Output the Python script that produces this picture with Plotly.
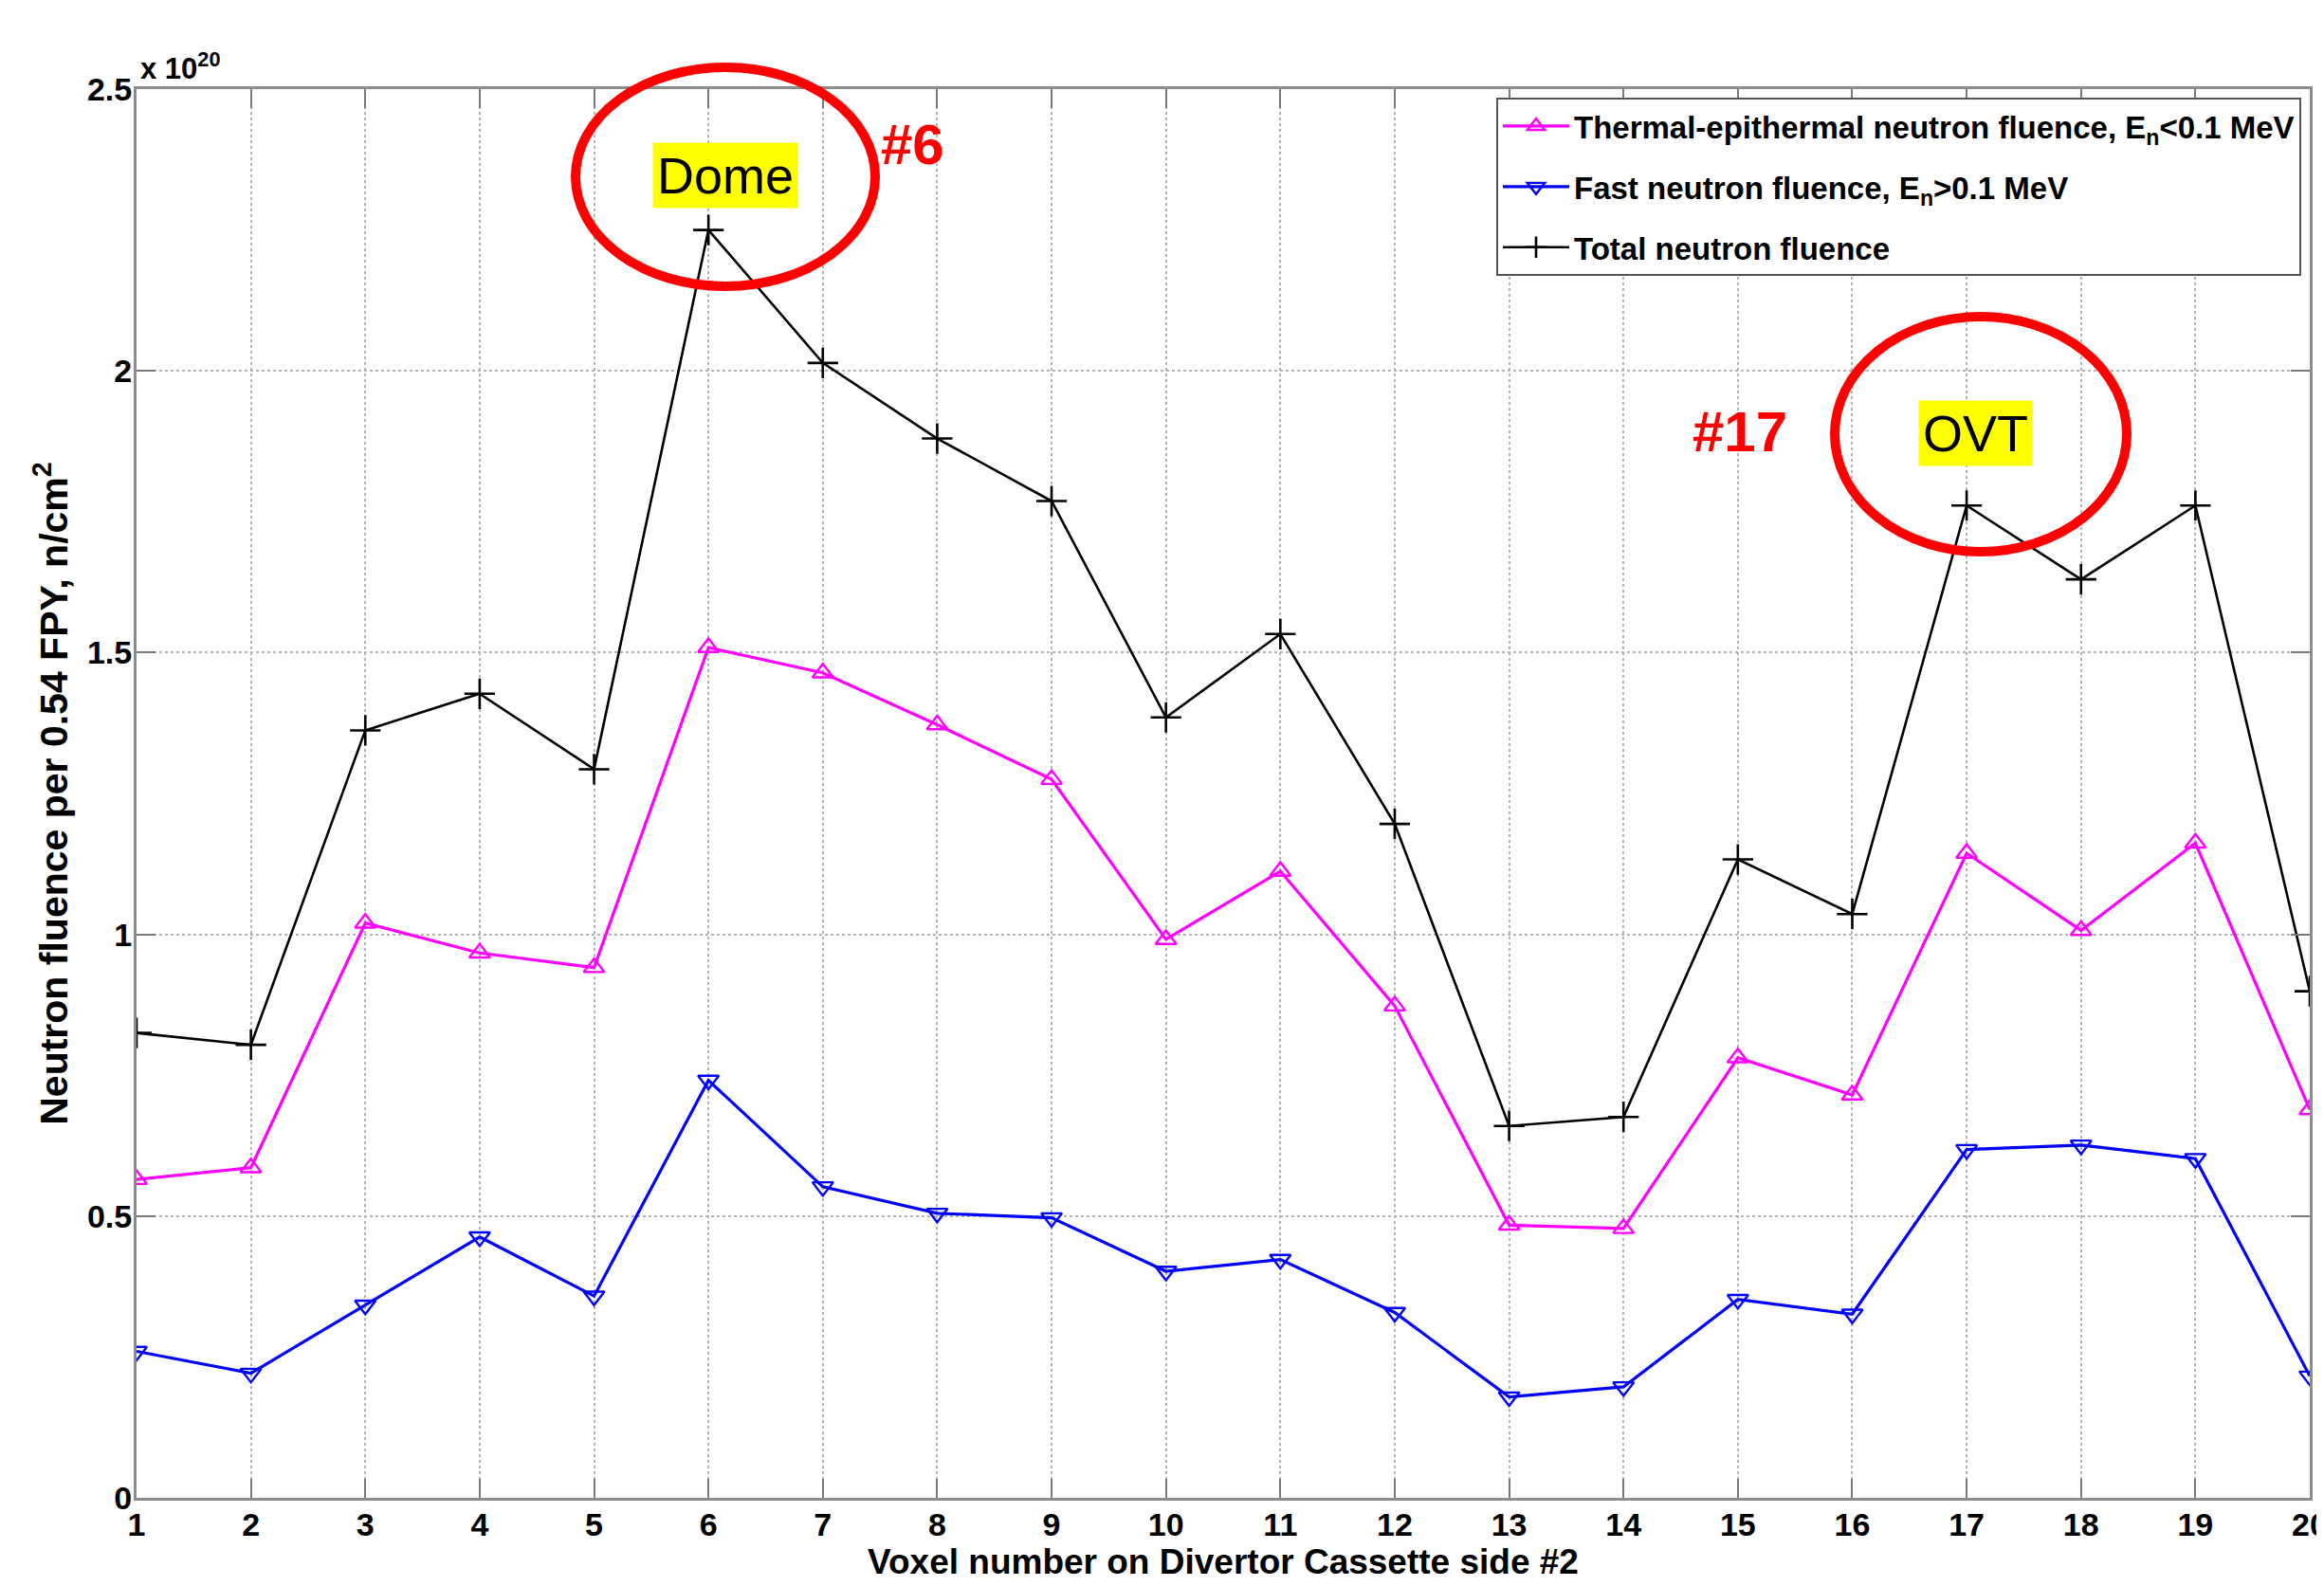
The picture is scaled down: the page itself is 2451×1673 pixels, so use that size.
import plotly.graph_objects as go

# Data (values in units of 1e20 n/cm^2)
voxels = list(range(1, 21))
thermal = [0.565, 0.586, 1.020, 0.967, 0.941, 1.509, 1.464, 1.372, 1.275, 0.991,
           1.112, 0.873, 0.484, 0.478, 0.781, 0.715, 1.144, 1.007, 1.162, 0.689]
fast = [0.260, 0.221, 0.342, 0.463, 0.358, 0.741, 0.552, 0.505, 0.497, 0.402,
        0.423, 0.329, 0.179, 0.197, 0.352, 0.326, 0.618, 0.626, 0.602, 0.216]
total = [0.825, 0.804, 1.362, 1.427, 1.293, 2.250, 2.014, 1.880, 1.769, 1.385,
         1.533, 1.196, 0.660, 0.676, 1.133, 1.036, 1.761, 1.630, 1.761, 0.899]
y_ticks = [0, 0.5, 1, 1.5, 2, 2.5]
y_tick_labels = ["0", "0.5", "1", "1.5", "2", "2.5"]

# page body has an 8px margin; figure sized/placed to compensate
OFF = 8
W, H = 2451 - OFF, 1673 - OFF
L, R, T, B = 144 - OFF, 15, 94 - OFF, 93
PW, PH = W - L - R, H - T - B

def px(x):
    # screen x (pixels) -> paper coordinate
    return (x - OFF - L) / PW

def py(y):
    # screen y (pixels) -> paper coordinate
    return (H - B - (y - OFF)) / PH

FONT = "Liberation Sans, Arial, sans-serif"

fig = go.Figure()
fig.add_trace(go.Scatter(
    x=voxels, y=thermal, mode="lines+markers", legendgroup="g1",
    name="Thermal-epithermal neutron fluence, E<sub>n</sub><0.1 MeV",
    line=dict(color="#ff00ff", width=3.2),
    marker=dict(symbol="triangle-up-open", size=19, color="#ff00ff",
                line=dict(width=2.4, color="#ff00ff")),
))
fig.add_trace(go.Scatter(
    x=voxels, y=fast, mode="lines+markers", legendgroup="g2",
    name="Fast neutron fluence, E<sub>n</sub>>0.1 MeV",
    line=dict(color="#0000ff", width=3.2),
    marker=dict(symbol="triangle-down-open", size=19, color="#0000ff",
                line=dict(width=2.4, color="#0000ff")),
))
fig.add_trace(go.Scatter(
    x=voxels, y=total, mode="lines+markers", legendgroup="g3",
    name="Total neutron fluence",
    line=dict(color="#000000", width=2.6),
    marker=dict(symbol="cross-thin", size=23, color="#000000",
                line=dict(width=2.6, color="#000000")),
))

axis_common = dict(
    showline=True, linecolor="#8c8c8c", linewidth=3, mirror="ticks",
    ticks="inside", ticklen=20, tickwidth=2, tickcolor="#7a7a7a",
    showgrid=True, gridcolor="#b4b4b4", gridwidth=1.5, griddash="dot",
    zeroline=False, automargin=False, ticklabeloverflow="allow",
    tickfont=dict(family=FONT, size=34, color="#000000", weight="bold"),
)

fig.update_xaxes(
    range=[1, 20], tickmode="array", tickvals=voxels,
    ticktext=[str(v) for v in voxels], ticklabelstandoff=-4,
    title=dict(text="<b>Voxel number on Divertor Cassette side #2</b>",
               font=dict(family=FONT, size=37, color="#000000"), standoff=0),
    **axis_common,
)
fig.update_yaxes(
    range=[0, 2.5], tickmode="array", tickvals=y_ticks, ticktext=y_tick_labels,
    ticklabelstandoff=-5,
    title=dict(text="<b>Neutron fluence per 0.54 FPY, n/cm<sup>2</sup></b>",
               font=dict(family=FONT, size=41, color="#000000"), standoff=8),
    **axis_common,
)

shapes = [
    dict(type="circle", xref="paper", yref="paper",
         x0=px(607), x1=px(923), y0=py(302), y1=py(71),
         line=dict(color="#ff0000", width=10)),
    dict(type="circle", xref="paper", yref="paper",
         x0=px(1935), x1=px(2243), y0=py(582), y1=py(334),
         line=dict(color="#ff0000", width=10)),
]

annotations = [
    dict(text="<b>x 10<sup>20</sup></b>", xref="paper", yref="paper",
         x=px(146), y=py(92), xanchor="left", yanchor="bottom", showarrow=False,
         font=dict(family=FONT, size=31, color="#000000")),
    dict(text="Dome", xref="paper", yref="paper", x=px(765), y=py(185),
         xanchor="center", yanchor="middle",
         showarrow=False, bgcolor="#ffff00", borderpad=4,
         font=dict(family=FONT, size=54, color="#000000")),
    dict(text="OVT", xref="paper", yref="paper", x=px(2083), y=py(457),
         xanchor="center", yanchor="middle",
         showarrow=False, bgcolor="#ffff00", borderpad=4,
         font=dict(family=FONT, size=54, color="#000000")),
    dict(text="<b>#6</b>", xref="paper", yref="paper", x=px(963), y=py(152),
         xanchor="center", yanchor="middle", showarrow=False,
         font=dict(family=FONT, size=60, color="#ff0000")),
    dict(text="<b>#17</b>", xref="paper", yref="paper", x=px(1835), y=py(455),
         xanchor="center", yanchor="middle", showarrow=False,
         font=dict(family=FONT, size=60, color="#ff0000")),
]

fig.update_layout(
    width=W, height=H,
    margin=dict(l=L, r=R, t=T, b=B),
    paper_bgcolor="#ffffff", plot_bgcolor="#ffffff",
    shapes=shapes, annotations=annotations,
    showlegend=True,
    legend=dict(
        x=px(2427), y=py(103), xanchor="right", yanchor="top",
        bgcolor="#ffffff", bordercolor="#555555", borderwidth=2,
        font=dict(family=FONT, size=33, color="#000000", weight="bold"),
        itemwidth=70, tracegroupgap=18,
    ),
)

fig.write_html("out.html")
